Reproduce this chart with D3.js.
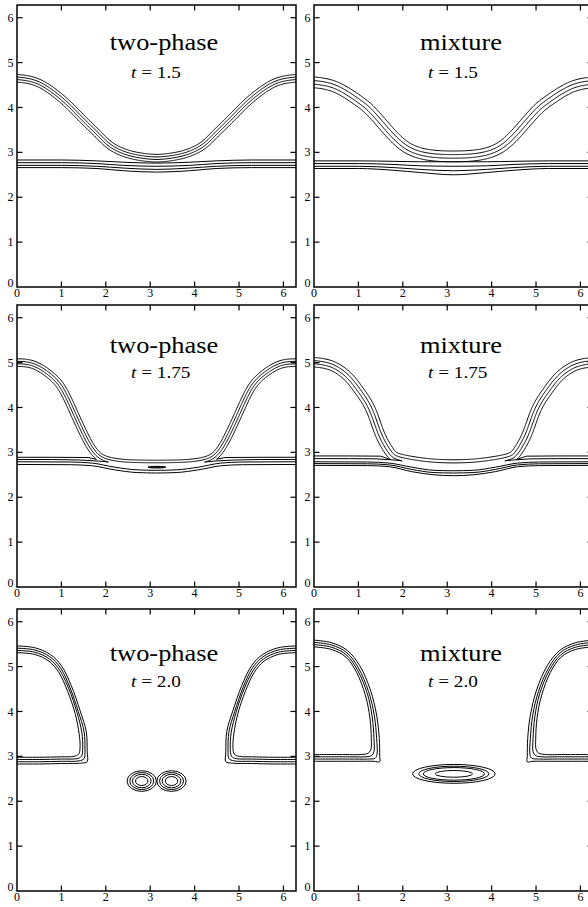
<!DOCTYPE html>
<html>
<head>
<meta charset="utf-8">
<script src="https://cdn.jsdelivr.net/npm/d3@7"></script>
<style>
  body { margin: 0; background: #fff; }
  svg { display: block; }
</style>
</head>
<body>
<script>
const PI = Math.PI;
const TWO_PI = 2 * Math.PI;
const SERIF = "'Liberation Serif', 'Times New Roman', Times, 'DejaVu Serif', serif";

// ---------- axes ----------
const xTickValues = [0, 1, 2, 3, 4, 5, 6];
const yTickValues = [0, 1, 2, 3, 4, 5, 6];
const methods = ["two-phase", "mixture"];
const times = ["1.5", "1.75", "2.0"];

// ---------- t = 1.5 ----------
// centre line of the upper interface for 0 <= x <= π (flow is symmetric about x = π)
const upperTP15 = [[0,4.65],[0.5,4.54],[1.0,4.2],[1.3,3.92],[1.6,3.62],[1.85,3.38],[2.1,3.15],[2.45,2.98],[2.8,2.9],[PI,2.87]];
const upperMX15 = [[0,4.56],[0.5,4.45],[1.0,4.15],[1.25,3.95],[1.5,3.68],[1.75,3.4],[2.07,3.12],[2.44,2.97],[2.8,2.92],[PI,2.91]];
// contour levels across the interface (distance from centre line)
const levelsTP = [0.085, 0.028, -0.028, -0.085];
const levelsMX = [0.12, 0.04, -0.04, -0.12];
// lower interface contours: y at these x stations
const lowerX15 = [0, 1, 1.8, 2.4, PI];
const lowerTP15 = [[2.83,2.83,2.81,2.78,2.76],[2.77,2.77,2.75,2.71,2.69],[2.71,2.71,2.69,2.65,2.62],[2.66,2.66,2.64,2.59,2.56]];
const lowerMX15 = [[2.81,2.81,2.8,2.79,2.79],[2.75,2.75,2.73,2.7,2.69],[2.69,2.69,2.66,2.62,2.59],[2.64,2.64,2.6,2.55,2.5]];

// ---------- t = 1.75 ----------
const upperTP175 = [[0,5.0],[0.37,4.95],[0.74,4.73],[1.0,4.45],[1.23,4.0],[1.5,3.42],[1.72,3.04],[1.95,2.85],[2.3,2.77],[2.7,2.745],[PI,2.74]];
const upperMX175 = [[0,5.01],[0.4,4.93],[0.75,4.7],[1.0,4.4],[1.27,3.97],[1.48,3.42],[1.7,3.02],[1.9,2.87],[2.3,2.79],[2.7,2.745],[PI,2.73]];
const openLevelsTP175 = [0.085, 0.028];
const openLevelsMX175 = [0.105, 0.035];
// pinched contours: level on the upper interface, x of the cusp, return branch along the lower interface
const pinchedTP175 = [
  { level: -0.085, cuspX: 1.8,  tail: [[1.6,2.885],[0.8,2.89],[0,2.89]] },
  { level: -0.028, cuspX: 2.06, tail: [[1.85,2.805],[1.4,2.83],[0.8,2.84],[0,2.84]] }
];
const pinchedMX175 = [
  { level: -0.105, cuspX: 1.72, tail: [[1.5,2.915],[0.8,2.92],[0,2.92]] },
  { level: -0.035, cuspX: 2.0,  tail: [[1.8,2.83],[1.4,2.855],[0.8,2.86],[0,2.86]] }
];
const lowerX175 = [0, 1.2, 1.7, 2.2, 2.7, PI];
const lowerTP175 = [[2.79,2.785,2.76,2.67,2.61,2.6],[2.73,2.725,2.7,2.61,2.55,2.54]];
const lowerMX175 = [[2.79,2.785,2.76,2.67,2.6,2.59],[2.75,2.745,2.72,2.62,2.55,2.54],[2.71,2.705,2.68,2.57,2.5,2.48]];
// thin remnant of the middle layer at the centre: [cx, cy, rx, ry]
const remnantTP175 = [[3.15, 2.67, 0.2, 0.018]];

// ---------- t = 2.0 ----------
// nested contours of the left lobe (top edge -> corner -> bottom edge); right lobe is its mirror
const lobeTP20 = [
  [[0,5.46],[0.4,5.42],[0.75,5.27],[1.0,5.02],[1.22,4.58],[1.42,4.02],[1.56,3.55],[1.58,3.1],[1.58,2.88],[1.45,2.85],[1.0,2.84],[0.5,2.83],[0,2.83]],
  [[0,5.41],[0.4,5.37],[0.74,5.22],[0.98,4.97],[1.19,4.54],[1.38,4.0],[1.51,3.55],[1.53,3.15],[1.51,2.95],[1.4,2.9],[1.0,2.89],[0.5,2.88],[0,2.88]],
  [[0,5.36],[0.4,5.32],[0.73,5.17],[0.96,4.92],[1.17,4.5],[1.35,3.98],[1.46,3.53],[1.48,3.18],[1.45,3.0],[1.35,2.95],[1.0,2.94],[0.5,2.93],[0,2.93]],
  [[0,5.31],[0.4,5.27],[0.72,5.12],[0.94,4.87],[1.14,4.45],[1.31,3.95],[1.4,3.5],[1.42,3.2],[1.39,3.05],[1.28,3.0],[1.0,2.99],[0.5,2.98],[0,2.98]]
];
const lobeMX20 = [
  [[0,5.59],[0.4,5.53],[0.75,5.36],[1.03,5.02],[1.27,4.48],[1.41,3.92],[1.47,3.4],[1.48,3.0],[1.48,2.88],[1.35,2.89],[0.9,2.89],[0,2.89]],
  [[0,5.54],[0.4,5.48],[0.74,5.31],[1.0,4.97],[1.23,4.44],[1.36,3.9],[1.41,3.4],[1.42,3.05],[1.38,2.96],[1.2,2.94],[0.8,2.94],[0,2.94]],
  [[0,5.49],[0.4,5.43],[0.73,5.26],[0.98,4.92],[1.2,4.4],[1.31,3.88],[1.35,3.4],[1.35,3.1],[1.3,3.02],[1.15,2.99],[0.8,2.99],[0,2.99]],
  [[0,5.44],[0.4,5.38],[0.72,5.21],[0.96,4.87],[1.16,4.35],[1.26,3.85],[1.29,3.4],[1.28,3.15],[1.22,3.07],[1.05,3.04],[0.7,3.04],[0,3.04]]
];
// detached drops: centres and ring radii
const dropCentresTP20 = [[2.81, 2.45], [3.48, 2.45]];
const dropRxTP20 = [0.33, 0.27, 0.21, 0.14];
const dropRyTP20 = [0.23, 0.19, 0.15, 0.10];
const dropCentresMX20 = [[3.15, 2.61]];
const dropRxMX20 = [0.93, 0.79, 0.69, 0.42];
const dropRyMX20 = [0.21, 0.17, 0.14, 0.075];

// ---------- layout ----------
const W = 588, H = 907;
const colLeft = [17, 314];
const rowTop = [5, 305, 609];
const panelW = 279, panelH = 282;
const titleDy = [44.7, 47.6, 51.7];
const timeDy = [72.7, 72.6, 77.7];
const textStretch = 1.1;

const svg = d3.select("body").append("svg")
  .attr("width", W).attr("height", H)
  .attr("font-family", SERIF);
const defs = svg.append("defs");

const mirror = pts => pts.concat(pts.slice(0, -1).reverse().map(([x, y]) => [TWO_PI - x, y]));
const mirrorX = pts => pts.map(([x, y]) => [TWO_PI - x, y]);

function panel(row, col) {
  const left = colLeft[col], top = rowTop[row];
  const x = d3.scaleLinear().domain([0, TWO_PI]).range([left, left + panelW]);
  const y = d3.scaleLinear().domain([0, TWO_PI]).range([top + panelH, top]);
  const g = svg.append("g");
  const id = `clip-${row}-${col}`;
  defs.append("clipPath").attr("id", id).append("rect")
    .attr("x", left).attr("y", top).attr("width", panelW).attr("height", panelH);
  const plot = g.append("g").attr("clip-path", `url(#${id})`);
  return { x, y, g, plot, left, top };
}

function curveLine(P, curve) {
  return d3.line().x(d => P.x(d[0])).y(d => P.y(d[1])).curve(curve || d3.curveCatmullRom.alpha(0.5));
}
const pxLine = d3.line();

function drawPath(P, d) {
  P.plot.append("path").attr("d", d).attr("fill", "none").attr("stroke", "#000").attr("stroke-width", 1);
}

// sample a smooth curve through the centre line and return pixel offset curves
function offsetCurves(P, pts, levels) {
  const tmp = svg.append("path").attr("d", curveLine(P, d3.curveNatural)(pts));
  const node = tmp.node(), L = node.getTotalLength();
  const n = Math.ceil(L / 1.0);
  const s = d3.range(n + 1).map(i => { const q = node.getPointAtLength(L * i / n); return [q.x, q.y]; });
  tmp.remove();
  const k = P.y(0) - P.y(1), w = 4;
  return levels.map(lv => s.map((p, i) => {
    const a = s[Math.max(0, i - w)], b = s[Math.min(n, i + w)];
    const dx = b[0] - a[0], dy = b[1] - a[1], m = Math.hypot(dx, dy) || 1;
    return [p[0] + dy / m * lv * k, p[1] - dx / m * lv * k];
  }));
}

function drawBand(P, half, levels) {
  offsetCurves(P, mirror(half), levels).forEach(c => drawPath(P, pxLine(c)));
}

function drawLower(P, xs, rows) {
  rows.forEach(ys => drawPath(P, curveLine(P, d3.curveMonotoneX)(mirror(xs.map((xv, i) => [xv, ys[i]])))));
}

function drawPinched(P, half, specs) {
  const x0 = P.x(0), x1 = P.x(TWO_PI);
  specs.forEach(sp => {
    const c = offsetCurves(P, mirror(half), [sp.level])[0];
    const cx = P.x(sp.cuspX);
    const head = [];
    for (const p of c) { if (p[0] >= cx) break; head.push(p); }
    const pts = head.concat(sp.tail.map(d => [P.x(d[0]), P.y(d[1])]));
    drawPath(P, pxLine(pts));
    drawPath(P, pxLine(pts.map(([a, b]) => [x0 + x1 - a, b])));
  });
}

function drawRings(P, centres, rxs, rys, fill) {
  const kx = P.x(1) - P.x(0), ky = P.y(0) - P.y(1);
  centres.forEach(c => rxs.forEach((rx, i) => {
    P.plot.append("ellipse")
      .attr("cx", P.x(c[0])).attr("cy", P.y(c[1]))
      .attr("rx", rx * kx).attr("ry", rys[i] * ky)
      .attr("fill", fill || "none").attr("stroke", "#000").attr("stroke-width", 1);
  }));
}

function drawLobes(P, contours) {
  contours.forEach(c => {
    drawPath(P, curveLine(P)(c));
    drawPath(P, curveLine(P)(mirrorX(c)));
  });
}

function frame(P, row, col) {
  const { x, y, g, left, top } = P;
  const tl = 5.5;
  g.append("rect").attr("x", left).attr("y", top).attr("width", panelW).attr("height", panelH)
    .attr("fill", "none").attr("stroke", "#000").attr("stroke-width", 1.5);
  const tk = g.append("g").attr("stroke", "#000").attr("stroke-width", 1.2);
  xTickValues.filter(v => v > 0).forEach(v => {
    tk.append("line").attr("x1", x(v)).attr("x2", x(v)).attr("y1", top + panelH).attr("y2", top + panelH - tl);
    tk.append("line").attr("x1", x(v)).attr("x2", x(v)).attr("y1", top).attr("y2", top + tl);
  });
  yTickValues.filter(v => v > 0).forEach(v => {
    tk.append("line").attr("y1", y(v)).attr("y2", y(v)).attr("x1", left).attr("x2", left + tl);
    tk.append("line").attr("y1", y(v)).attr("y2", y(v)).attr("x1", left + panelW).attr("x2", left + panelW - tl);
  });
  g.selectAll(null).data(xTickValues).join("text")
    .attr("x", d => x(d)).attr("y", top + panelH + 9.8)
    .attr("text-anchor", "middle").attr("font-size", 12).text(d => d);
  g.selectAll(null).data(yTickValues).join("text")
    .attr("x", left - 3.5).attr("y", d => y(d) + (d === 0 ? -4.5 : 0))
    .attr("dy", "0.34em").attr("text-anchor", "end").attr("font-size", 12).text(d => d);
  g.append("text")
    .attr("transform", `translate(${left + 147},${top + titleDy[row]}) scale(${textStretch},1)`)
    .attr("text-anchor", "middle").attr("font-size", 24).text(methods[col]);
  const tt = g.append("text")
    .attr("transform", `translate(${left + 114},${top + timeDy[row]}) scale(${textStretch},1)`)
    .attr("text-anchor", "start").attr("font-size", 17.5);
  tt.append("tspan").attr("font-style", "italic").text("t");
  tt.append("tspan").text(" = " + times[row]);
}

// row 1: t = 1.5
{
  const A = panel(0, 0);
  drawBand(A, upperTP15, levelsTP);
  drawLower(A, lowerX15, lowerTP15);
  frame(A, 0, 0);
  const B = panel(0, 1);
  drawBand(B, upperMX15, levelsMX);
  drawLower(B, lowerX15, lowerMX15);
  frame(B, 0, 1);
}
// row 2: t = 1.75
{
  const A = panel(1, 0);
  drawBand(A, upperTP175, openLevelsTP175);
  drawPinched(A, upperTP175, pinchedTP175);
  drawLower(A, lowerX175, lowerTP175);
  drawRings(A, remnantTP175.map(r => [r[0], r[1]]), remnantTP175.map(r => r[2]), remnantTP175.map(r => r[3]), "#222");
  frame(A, 1, 0);
  const B = panel(1, 1);
  drawBand(B, upperMX175, openLevelsMX175);
  drawPinched(B, upperMX175, pinchedMX175);
  drawLower(B, lowerX175, lowerMX175);
  frame(B, 1, 1);
}
// row 3: t = 2.0
{
  const A = panel(2, 0);
  drawLobes(A, lobeTP20);
  drawRings(A, dropCentresTP20, dropRxTP20, dropRyTP20);
  frame(A, 2, 0);
  const B = panel(2, 1);
  drawLobes(B, lobeMX20);
  drawRings(B, dropCentresMX20, dropRxMX20, dropRyMX20);
  frame(B, 2, 1);
}
</script>
</body>
</html>
